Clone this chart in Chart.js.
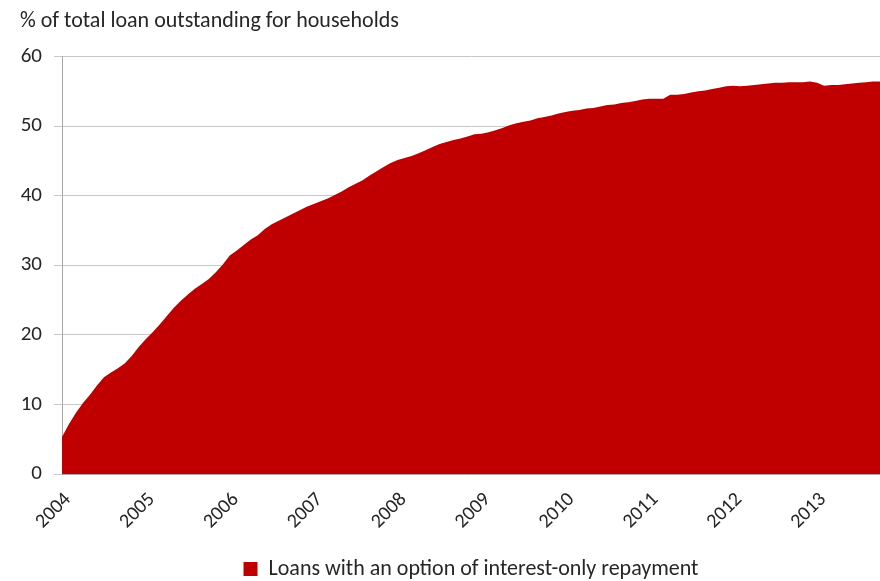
<!DOCTYPE html>
<html>
<head>
<meta charset="utf-8">
<script src="https://cdn.jsdelivr.net/npm/chart.js@4"></script>
<style>
  html, body { margin: 0; padding: 0; background: #fff; }
  #wrap { width: 880px; height: 581px; }
</style>
</head>
<body>
<div id="wrap"><canvas id="chart" width="880" height="581"></canvas></div>
<script>
// share of interest-only loans, monthly from Jan 2004
const years = ['2004', '2005', '2006', '2007', '2008', '2009', '2010', '2011', '2012', '2013'];
const monthNames = ['Jan', 'Feb', 'Mar', 'Apr', 'May', 'Jun', 'Jul', 'Aug', 'Sep', 'Oct', 'Nov', 'Dec'];
const interestOnly = [
  5.3, 7.2, 8.8, 10.2, 11.4, 12.7, 13.9, 14.6, 15.2, 15.9, 17.0, 18.3,
  19.4, 20.4, 21.5, 22.7, 23.9, 24.9, 25.8, 26.6, 27.3, 28.0, 29.0, 30.1,
  31.4, 32.1, 32.9, 33.7, 34.3, 35.2, 35.9, 36.4, 36.9, 37.4, 37.9, 38.4,
  38.8, 39.2, 39.6, 40.1, 40.6, 41.2, 41.7, 42.2, 42.9, 43.5, 44.1, 44.7,
  45.1, 45.4, 45.7, 46.1, 46.5, 47.0, 47.4, 47.7, 48.0, 48.2, 48.5, 48.8,
  48.9, 49.1, 49.4, 49.7, 50.1, 50.4, 50.6, 50.8, 51.1, 51.3, 51.5, 51.8,
  52.0, 52.2, 52.3, 52.5, 52.6, 52.8, 53.0, 53.1, 53.3, 53.4, 53.6, 53.8,
  53.9, 53.9, 53.9, 54.5, 54.5, 54.6, 54.8, 55.0, 55.1, 55.3, 55.5, 55.7,
  55.8, 55.7, 55.8, 55.9, 56.0, 56.1, 56.2, 56.2, 56.3, 56.3, 56.3, 56.4,
  56.2, 55.8, 55.9, 55.9, 56.0, 56.1, 56.2, 56.3, 56.4, 56.4
];

const months = [];
years.forEach(y => monthNames.forEach(m => months.push(m + ' ' + y)));
const labels = months.slice(0, interestOnly.length);

const textColor = '#262626';
const font = 'Carlito, Lato, sans-serif';

new Chart(document.getElementById('chart').getContext('2d'), {
  type: 'line',
  data: {
    labels: labels,
    datasets: [{
      label: 'Loans with an option of interest-only repayment',
      data: interestOnly,
      fill: 'origin',
      backgroundColor: '#C00000',
      borderColor: '#C00000',
      borderWidth: 0,
      pointRadius: 0,
      tension: 0
    }]
  },
  options: {
    responsive: false,
    animation: false,
    layout: { padding: { left: 20, right: 0, top: 0, bottom: -9 } },
    plugins: {
      title: {
        display: true,
        text: '% of total loan outstanding for households',
        align: 'start',
        color: textColor,
        font: { family: font, size: 22, weight: 'normal' },
        padding: { top: 8, bottom: 22 }
      },
      legend: {
        position: 'bottom',
        fullSize: false,
        labels: {
          color: textColor,
          font: { family: font, size: 22 },
          boxWidth: 14,
          boxHeight: 14,
          padding: 2
        }
      },
      tooltip: { enabled: false }
    },
    scales: {
      x: {
        offset: false,
        grid: { display: false, drawTicks: false },
        border: { display: true, color: '#a6a6a6' },
        ticks: {
          color: textColor,
          font: { family: font, size: 20 },
          autoSkip: false,
          maxRotation: 45,
          minRotation: 45,
          padding: 14,
          labelOffset: 6,
          callback: (v, i) => (i % 12 === 0 ? years[i / 12] : null)
        },
        afterFit: scale => { scale.height = 82; }
      },
      y: {
        min: 0,
        max: 60,
        ticks: {
          stepSize: 10,
          color: textColor,
          font: { family: font, size: 21 },
          padding: 12
        },
        grid: { color: '#c8c8c8', tickLength: 8 },
        border: { color: '#a6a6a6' },
        afterFit: scale => { scale.width = 42; }
      }
    }
  }
});
</script>
</body>
</html>
